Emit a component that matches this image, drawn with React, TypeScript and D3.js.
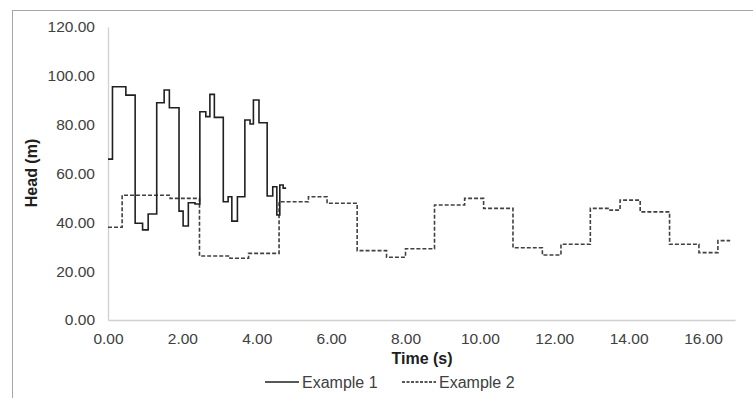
import React, { useEffect, useRef } from "react";
import * as d3 from "d3";

// Example 1 (solid) step series: time (s) and head (m)
const ex1Time = [0, 0.12, 0.48, 0.73, 0.93, 1.08, 1.31, 1.51, 1.65, 1.91, 2.02, 2.16, 2.34, 2.47, 2.63, 2.74, 2.86, 3.1, 3.23, 3.33, 3.48, 3.68, 3.82, 3.91, 4.06, 4.28, 4.43, 4.54, 4.62, 4.71, 4.79];
const ex1Head = [65.9, 95.5, 92.1, 39.6, 36.9, 43.4, 89.0, 94.2, 86.9, 44.6, 38.5, 48.0, 47.5, 85.3, 83.3, 92.4, 83.0, 48.4, 50.5, 40.5, 50.5, 81.9, 80.3, 90.1, 80.8, 50.8, 54.6, 43.0, 55.3, 54.0, 54.0];

// Example 2 (dashed) step series
const ex2Time = [0, 0.38, 1.67, 2.46, 3.28, 3.78, 4.6, 5.39, 5.89, 6.7, 7.49, 8.0, 8.78, 9.59, 10.1, 10.89, 11.68, 12.18, 12.97, 13.5, 13.77, 14.31, 15.1, 15.89, 16.4, 16.73];
const ex2Head = [38.0, 51.1, 49.8, 26.2, 25.3, 27.3, 48.4, 50.5, 47.8, 28.4, 25.7, 29.2, 47.1, 49.8, 45.7, 29.6, 26.6, 31.0, 45.7, 45.0, 49.1, 44.3, 31.0, 27.6, 32.5, 32.5];

const xTicks = [0, 2, 4, 6, 8, 10, 12, 14, 16];
const yTicks = [0, 20, 40, 60, 80, 100, 120];
const seriesNames = ["Example 1", "Example 2"];

const W = 753;
const H = 398;
const FONT = "'Liberation Sans', Arial, sans-serif";

export default function App() {
  const ref = useRef<SVGSVGElement | null>(null);

  useEffect(() => {
    const svg = d3.select(ref.current);
    svg.selectAll("*").remove();

    const left = 108, right = 735, top = 27, bottom = 320;
    const x = d3.scaleLinear().domain([0, 16.86]).range([left, right]);
    const y = d3.scaleLinear().domain([0, 120]).range([bottom, top]);

    svg.append("rect").attr("width", W).attr("height", H).attr("fill", "#fff");
    // outer chart frame
    svg.append("rect")
      .attr("x", 12.5).attr("y", 10.5).attr("width", 900).attr("height", 500)
      .attr("fill", "none").attr("stroke", "#a6a6a6").attr("stroke-width", 1);

    // axes
    const xAxis = svg.append("g").attr("transform", `translate(0,${bottom})`)
      .call(d3.axisBottom(x).tickValues(xTicks).tickFormat(d3.format(".2f")).tickSize(0).tickPadding(13));
    const yAxis = svg.append("g").attr("transform", `translate(${left},0)`)
      .call(d3.axisLeft(y).tickValues(yTicks).tickFormat(d3.format(".2f")).tickSize(0).tickPadding(13));
    [xAxis, yAxis].forEach((g) => {
      g.select(".domain").attr("stroke", "#d0d0d0").attr("stroke-width", 1.3);
      g.selectAll("text").attr("font-family", FONT).attr("font-size", 15.5).attr("fill", "#404040");
    });

    const line = (xs: number[], ys: number[]) =>
      d3.line<number>().x((_, i) => x(xs[i])).y((_, i) => y(ys[i])).curve(d3.curveStepAfter)(xs);

    svg.append("path").attr("d", line(ex2Time, ex2Head) as string)
      .attr("fill", "none").attr("stroke", "#404040").attr("stroke-width", 1.6)
      .attr("stroke-dasharray", "4,2");
    svg.append("path").attr("d", line(ex1Time, ex1Head) as string)
      .attr("fill", "none").attr("stroke", "#202020").attr("stroke-width", 1.6);

    // axis titles
    svg.append("text").attr("x", 422).attr("y", 364).attr("text-anchor", "middle")
      .attr("font-family", FONT).attr("font-size", 16).attr("font-weight", "bold").attr("fill", "#202020")
      .text("Time (s)");
    svg.append("text").attr("transform", `translate(37,173) rotate(-90)`).attr("text-anchor", "middle")
      .attr("font-family", FONT).attr("font-size", 16).attr("font-weight", "bold").attr("fill", "#202020")
      .text("Head (m)");

    // legend
    const ly = 382;
    const legend = [
      { x0: 265, dash: null as string | null, name: seriesNames[0] },
      { x0: 402, dash: "3,1.5", name: seriesNames[1] },
    ];
    legend.forEach((l) => {
      svg.append("line").attr("x1", l.x0).attr("x2", l.x0 + 34).attr("y1", ly).attr("y2", ly)
        .attr("stroke", "#202020").attr("stroke-width", 1.6)
        .attr("stroke-dasharray", l.dash);
      svg.append("text").attr("x", l.x0 + 37).attr("y", ly + 5.5)
        .attr("font-family", FONT).attr("font-size", 16).attr("fill", "#404040").text(l.name);
    });
  }, []);

  return <svg ref={ref} width={W} height={H} style={{ display: "block", position: "absolute", left: 0, top: 0 }} />;
}
